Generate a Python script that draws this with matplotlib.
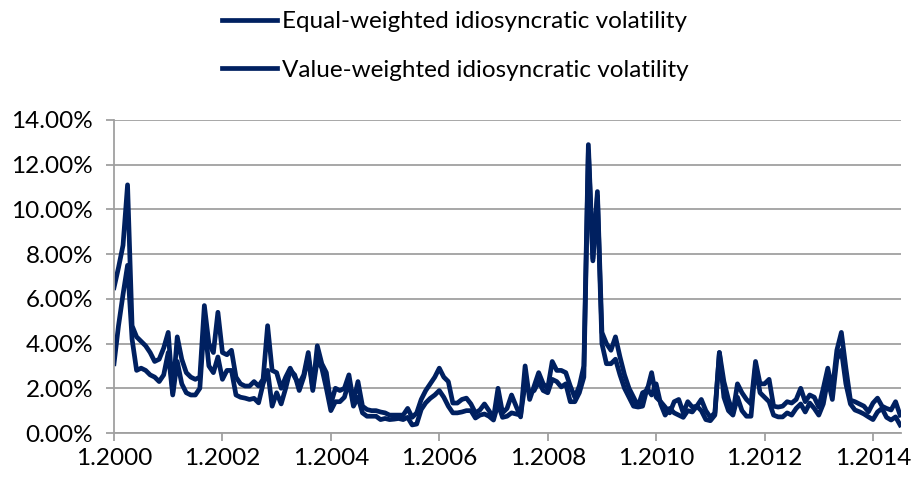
import numpy as np
from matplotlib import pyplot as plt

# monthly idiosyncratic volatility, in percent, 1.2000 .. 7.2014
equal_weighted = [
    6.5, 7.4, 8.4, 11.1, 4.8, 4.3, 4.1, 3.9, 3.6, 3.2, 3.3, 3.8,
    4.5, 1.8, 4.3, 3.3, 2.7, 2.5, 2.4, 2.5, 5.7, 4.0, 3.6, 5.4,
    3.6, 3.5, 3.7, 2.5, 2.2, 2.1, 2.1, 2.3, 2.1, 2.4, 4.8, 2.8,
    2.7, 2.0, 2.5, 2.9, 2.5, 2.2, 2.6, 3.6, 2.0, 3.9, 3.1, 2.7,
    1.3, 2.0, 1.9, 2.0, 2.6, 1.4, 2.3, 1.2, 1.05, 1.0, 1.0, 0.94,
    0.9, 0.8, 0.8, 0.8, 0.8, 1.1, 0.7, 0.9, 1.5, 1.9, 2.2, 2.5,
    2.9, 2.5, 2.3, 1.34, 1.34, 1.5, 1.56, 1.3, 0.9, 1.03, 1.3, 1.0,
    0.67, 2.0, 0.9, 1.1, 1.7, 1.2, 0.72, 3.0, 1.5, 2.1, 2.7, 2.2,
    2.0, 3.2, 2.8, 2.8, 2.7, 2.1, 1.6, 2.1, 3.0, 12.9, 7.8, 10.8,
    4.5, 4.0, 3.7, 4.3, 3.4, 2.6, 2.0, 1.6, 1.2, 1.8, 1.9, 2.7,
    1.6, 1.4, 1.16, 0.9, 1.4, 1.5, 0.9, 1.4, 1.16, 1.2, 1.5, 1.0,
    0.7, 0.9, 3.6, 2.3, 1.5, 0.9, 2.2, 1.8, 1.5, 1.3, 3.2, 2.2,
    2.2, 2.4, 1.2, 1.16, 1.2, 1.4, 1.34, 1.5, 2.0, 1.4, 1.7, 1.6,
    1.16, 2.0, 2.9, 1.9, 3.7, 4.5, 2.9, 1.47, 1.4, 1.3, 1.2, 0.95,
    1.34, 1.56, 1.2, 1.1, 1.03, 1.4, 0.8,
]
value_weighted = [
    3.1, 4.8, 6.2, 7.5, 4.2, 2.8, 2.9, 2.8, 2.6, 2.5, 2.3, 2.6,
    3.6, 1.7, 3.2, 2.2, 1.8, 1.7, 1.7, 2.0, 5.0, 3.0, 2.7, 3.4,
    2.4, 2.8, 2.8, 1.7, 1.6, 1.56, 1.5, 1.55, 1.35, 2.2, 2.8, 1.2,
    1.8, 1.3, 2.0, 2.8, 2.6, 1.9, 2.5, 3.4, 1.9, 3.3, 2.9, 2.0,
    1.0, 1.4, 1.4, 1.6, 2.3, 1.2, 1.6, 0.9, 0.75, 0.75, 0.75, 0.6,
    0.65, 0.6, 0.62, 0.65, 0.6, 0.7, 0.36, 0.4, 1.05, 1.35, 1.55, 1.7,
    1.9, 1.6, 1.2, 0.9, 0.9, 0.94, 1.0, 1.0, 0.67, 0.8, 0.85, 0.75,
    0.58, 1.3, 0.7, 0.75, 0.9, 0.85, 0.8, 2.2, 1.8, 1.9, 2.3, 1.9,
    1.8, 2.4, 2.3, 2.06, 2.2, 1.4, 1.4, 1.8, 2.5, 12.6, 7.7, 10.6,
    4.0, 3.1, 3.1, 3.3, 2.6, 2.0, 1.6, 1.2, 1.16, 1.2, 2.0, 1.7,
    2.2, 1.3, 0.8, 1.1, 0.9, 0.8, 0.7, 1.0, 0.94, 1.2, 1.0, 0.6,
    0.55, 0.8, 3.6, 1.6, 1.0, 0.8, 1.6, 1.0, 0.75, 0.75, 3.0, 1.8,
    1.6, 1.4, 0.8, 0.72, 0.72, 0.9, 0.8, 1.1, 1.3, 0.94, 1.34, 1.1,
    0.8, 1.3, 2.4, 1.5, 3.3, 3.7, 2.2, 1.3, 1.03, 0.95, 0.85, 0.72,
    0.6, 0.94, 1.1, 0.7, 0.58, 0.72, 0.36,
]
tick_labels = ['1.2000', '1.2002', '1.2004', '1.2006',
               '1.2008', '1.2010', '1.2012', '1.2014']
y_ticks = [0, 2, 4, 6, 8, 10, 12, 14]

plt.rcParams['font.family'] = ['Lato', 'DejaVu Sans']
navy = '#002060'
grid_grey = '#a0a0a0'
fs = 17.5

fig = plt.figure(figsize=(9.15, 4.87), dpi=100)
ax = fig.add_axes([114 / 915, 54 / 487, 787 / 915, 313 / 487])

months = np.arange(len(equal_weighted))
ax.plot(months, equal_weighted, color=navy, lw=3.4, solid_joinstyle='round',
        label='Equal-weighted idiosyncratic volatility')
ax.plot(months, value_weighted, color=navy, lw=3.4, solid_joinstyle='round',
        label='Value-weighted idiosyncratic volatility')

ax.set_xlim(0, len(equal_weighted) - 0.8)
ax.set_ylim(0, 14)
ax.set_yticks(y_ticks)
ax.set_yticklabels(['%.2f%%' % v for v in y_ticks])
ax.set_xticks(np.arange(len(tick_labels)) * 24)
ax.set_xticklabels(tick_labels)

ax.grid(axis='y', color=grid_grey, lw=1.3)
ax.set_axisbelow(True)
for side in ['top', 'right']:
    ax.spines[side].set_visible(False)
for side in ['left', 'bottom']:
    ax.spines[side].set_color(grid_grey)
    ax.spines[side].set_linewidth(1.3)
ax.tick_params(axis='both', colors=grid_grey, labelcolor='black',
               labelsize=fs, width=1.3, length=6)
ax.tick_params(axis='y', pad=9)
ax.tick_params(axis='x', pad=5)

fig.legend(loc='upper left', bbox_to_anchor=(222 / 915, 1 - 11 / 487),
           frameon=False, fontsize=fs, handlelength=2.25, handletextpad=0.2,
           labelspacing=1.15, borderpad=0, borderaxespad=0)

fig.savefig('out.png', dpi=100)
